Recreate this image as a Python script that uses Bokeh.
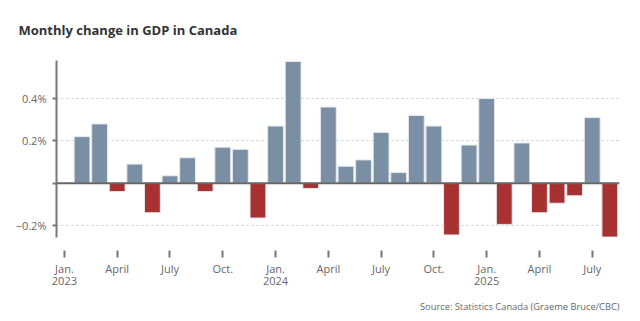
from bokeh.plotting import figure
from bokeh.models import ColumnDataSource, FixedTicker, Span, Title
from bokeh.embed import file_html
from bokeh.resources import INLINE

# Months since Jan. 2023 (0 = Jan. 2023); data runs Feb. 2023 .. Aug. 2025
month_index = list(range(1, 32))
gdp_change = [0.22, 0.28, -0.04, 0.09, -0.14, 0.035, 0.12, -0.04, 0.17, 0.16, -0.165,
              0.27, 0.575, -0.025, 0.36, 0.08, 0.11, 0.24, 0.05, 0.32, 0.27, -0.245,
              0.18, 0.40, -0.195, 0.19, -0.14, -0.095, -0.06, 0.31, -0.255]
tick_positions = [0, 3, 6, 9, 12, 15, 18, 21, 24, 27, 30]
tick_labels = ["Jan.\n2023", "April", "July", "Oct.", "Jan.\n2024", "April", "July", "Oct.",
               "Jan.\n2025", "April", "July"]
y_ticks = [-0.2, 0, 0.2, 0.4]
y_labels = ["\u22120.2%", "", "0.2%", "0.4%"]
chart_title = "Monthly change in GDP in Canada"
source_note = "Source: Statistics Canada (Graeme Bruce/CBC)"

POS = "#7a8fa4"
NEG = "#a83232"
colors = [POS if v >= 0 else NEG for v in gdp_change]
src = ColumnDataSource(dict(x=month_index, top=gdp_change, color=colors))

FONT = "Open Sans"

p = figure(width=640, height=321, output_backend="svg", toolbar_location=None,
           x_range=(-0.45, 31.55), y_range=(-0.257, 0.58),
           min_border_left=56, min_border_right=21, min_border_top=60, min_border_bottom=84,
           title=chart_title)
p.outline_line_color = None
p.background_fill_color = "white"
p.border_fill_color = "white"

p.title.text_font = FONT
p.title.text_font_size = "13px"
p.title.text_font_style = "bold"
p.title.text_color = "#333333"
p.title.align = "left"
p.title.offset = -38
p.title.standoff = 0

# empty spacer between the title and the plot area
spacer = Title(text=" ", text_font_size="18px", standoff=0, text_color="white")
p.add_layout(spacer, "above")

p.vbar(x="x", top="top", bottom=0, width=0.9, fill_color="color",
       line_color="#e4e9ee", line_width=1, source=src)

zero = Span(location=0, dimension="width", line_color="#666666", line_width=2)
p.add_layout(zero)

# grid
p.xgrid.grid_line_color = None
p.ygrid.ticker = FixedTicker(ticks=[-0.2, 0.2, 0.4])
p.ygrid.grid_line_color = "#c2cad2"
p.ygrid.grid_line_dash = "2 3"
p.ygrid.grid_line_width = 1

# y axis
ya = p.yaxis[0]
ya.ticker = FixedTicker(ticks=y_ticks)
ya.major_label_overrides = {t: l for t, l in zip(y_ticks, y_labels)}
ya.axis_line_color = "#777777"
ya.axis_line_width = 2
ya.major_tick_line_color = "#777777"
ya.major_tick_line_width = 2
ya.major_tick_in = 0
ya.major_tick_out = 4
ya.minor_tick_line_color = None
ya.major_label_standoff = 6
ya.major_label_text_font = FONT
ya.major_label_text_font_size = "11px"
ya.major_label_text_color = "#666666"

# x axis
xa = p.xaxis[0]
xa.ticker = FixedTicker(ticks=tick_positions)
xa.major_label_overrides = {t: l for t, l in zip(tick_positions, tick_labels)}
xa.axis_line_color = None
xa.major_tick_line_color = "#777777"
xa.major_tick_line_width = 2
xa.major_tick_in = -13
xa.major_tick_out = 20
xa.minor_tick_line_color = None
xa.major_label_standoff = 3
xa.major_label_text_font = FONT
xa.major_label_text_font_size = "11px"
xa.major_label_text_line_height = 0.8
xa.major_label_text_color = "#666666"

src_title = Title(text=source_note, align="right",
                  text_font=FONT, text_font_size="9.3px", text_font_style="normal",
                  text_color="#666666", standoff=14)
p.add_layout(src_title, "below")

open("out.html", "w").write(file_html(p, INLINE))
